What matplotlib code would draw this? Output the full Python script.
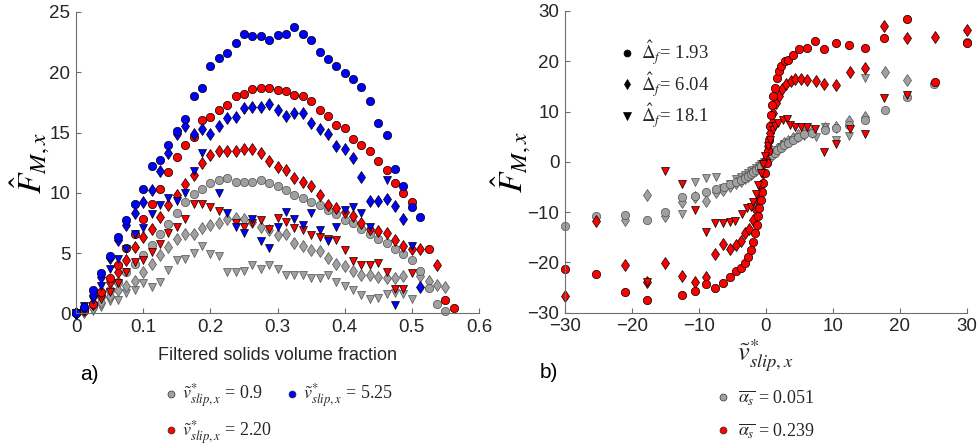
import numpy as np
import matplotlib
matplotlib.use("Agg")
import matplotlib.pyplot as plt
from matplotlib.lines import Line2D

n = np.nan
# ---------------- panel a) data ----------------
phi = [0.0000, 0.0125, 0.0250, 0.0375, 0.0500, 0.0625, 0.0750, 0.0875, 0.1000, 0.1125,
       0.1250, 0.1375, 0.1500, 0.1625, 0.1750, 0.1875, 0.2000, 0.2125, 0.2250, 0.2375,
       0.2500, 0.2625, 0.2750, 0.2875, 0.3000, 0.3125, 0.3250, 0.3375, 0.3500, 0.3625,
       0.3750, 0.3875, 0.4000, 0.4125, 0.4250, 0.4375, 0.4500, 0.4625, 0.4750, 0.4875,
       0.5000, 0.5125, 0.5250, 0.5375, 0.5500, 0.5625]

blue_circ = [0.0, 0.5, 1.93, 3.37, 4.75, 6.3, 7.7, 9.06, 10.3, 12.2,
             12.7, 13.98, 15.1, 16.1, 18.0, 18.7, 20.5, 21.2, 21.6, 22.4,
             23.2, 23.04, 23.0, 22.65, 23.1, 23.2, 23.76, 23.2, 22.65, 21.66,
             21.1, 20.5, 19.9, 19.45, 18.8, 17.6, 15.8, 14.8, 12.0, 10.6,
             8.84, 8.0, n, n, n, n]
blue_diam = [0.0, 0.4, 1.5, 3.0, 4.6, 6.1, 7.3, 8.3, 9.2, 10.2,
             11.8, 13.3, 14.9, 15.5, 14.9, 15.25, 14.9, 15.5, 16.2, 16.3,
             17.0, 17.1, 17.1, 17.35, 16.85, 16.4, 16.6, 16.6, 15.8, 15.3,
             14.9, 13.9, 13.6, 12.9, 11.3, 9.3, 9.3, 9.5, 8.9, 7.8,
             n, 2.2, n, n, n, n]
blue_tri = [0.0, 0.6, 1.1, 2.3, 3.7, 4.5, 5.3, 6.6, 7.1, 8.2,
            9.0, 9.6, 9.3, 10.0, 11.8, 13.3, n, 10.0, 8.3, 7.2,
            6.7, 7.8, 6.0, 5.4, 7.2, 8.4, 7.85, 7.3, 8.3, 6.9,
            6.0, 7.2, 8.6, 8.85, 8.3, 7.2, n, 11.05, 0.7, n,
            5.6, n, n, n, n, n]
red_circ = [0.0, 0.3, 0.8, 1.8, 2.9, 4.0, 5.4, 6.6, 7.85, 9.1,
            10.3, 11.7, 13.0, 14.0, 14.6, 16.0, 16.3, 16.9, 17.3, 18.0,
            18.2, 18.6, 18.7, 18.7, 18.5, 18.45, 18.1, 18.0, 17.6, 16.9,
            16.4, 15.6, 15.4, 14.5, 14.0, 13.5, 12.65, 11.9, 10.8, 10.0,
            9.2, n, 5.3, n, 1.1, 0.4]
red_diam = [0.0, 0.3, 0.8, 1.8, 2.6, 3.4, 4.4, 5.5, 6.3, 7.0,
            8.0, 9.0, 9.8, 10.7, 11.5, 12.5, 13.1, 13.5, 13.5, 13.5,
            13.6, 13.6, 13.3, 12.6, 12.1, 11.9, 11.2, 10.9, 10.6, 9.8,
            9.0, 8.7, 8.4, 8.1, 7.5, 7.0, 6.8, 6.65, 6.1, 5.55,
            5.3, 5.3, n, 4.0, n, n]
red_tri = [0.0, 0.2, 0.6, 1.2, 1.8, 2.5, 3.4, 4.25, 4.4, 5.1,
           5.75, 6.7, 7.2, 7.8, 9.1, 9.1, 8.8, 8.5, n, 7.5,
           7.2, 7.5, 7.7, 6.96, 7.9, 7.6, 7.1, 6.9, 6.5, 6.35,
           6.2, 6.1, 5.25, 4.3, 4.0, 4.0, 4.2, 3.4, 2.0, 2.0,
           3.35, n, n, n, n, n]
gray_circ = [0.0, 0.2, 0.8, 1.4, 1.9, 2.6, 3.4, 4.1, 4.8, 5.7,
             6.6, 7.4, 8.3, 9.2, 9.9, 10.3, 10.8, 11.05, 11.2, 10.9,
             10.9, 10.9, 11.1, 10.8, 10.6, 10.2, 9.8, 9.6, 9.2, 9.0,
             8.56, 8.2, 7.7, 7.5, 7.0, 6.6, 6.2, 5.8, 5.3, 4.9,
             4.4, 3.5, 2.1, 0.8, 0.2, n]
gray_diam = [0.0, 0.1, 0.4, 0.9, 1.4, 1.9, 2.3, 2.7, 3.4, 4.1,
             4.8, 5.5, 6.2, 6.6, 6.6, 7.1, 7.3, 7.5, 7.8, 7.9,
             7.85, 7.6, 7.2, 6.9, 6.5, 6.6, 5.86, 5.6, 5.25, 5.2,
             4.6, 4.1, 3.9, 3.5, 3.15, 3.15, 3.0, 2.95, 2.97, 3.1,
             n, 3.1, 2.7, 2.35, 2.2, n]
gray_tri = [0.0, 0.05, 0.2, 0.5, 1.0, 1.1, 1.7, 1.9, 2.5, 2.15,
            2.6, 3.6, 4.4, 4.5, 5.0, 5.6, 4.9, 4.75, 3.4, 3.4,
            3.5, 4.0, 3.7, 4.0, 3.65, 3.15, 3.15, 3.15, 2.9, 2.9,
            3.15, 2.6, 2.3, 1.9, 1.5, 1.15, 1.25, 1.6, 1.65, 1.6,
            1.2, n, n, n, n, n]

# ---------------- panel b) data ----------------
rc_x = [-30, -25.3, -21.1, -17.8, -12.6, -10.6, -8.9, -7.6, -6.4, -5.3, -4.5, -3.8, -3.2, -2.7,
        -2.3, -1.9, -1.65, -1.4, -1.2, -1.0, -0.8, -0.65, -0.4, -0.15, 0.1, 0.35, 0.5, 0.6, 0.7,
        0.85, 1.1, 1.3, 1.7, 2.0, 2.3, 2.8, 3.3, 4.05, 5.0, 6.1, 7.3, 8.7, 10.4, 12.4, 14.8,
        17.6, 21.1, 25.2, 30]
rc_y = [-21.3, -22.3, -25.9, -27.5, -26.4, -25.7, -24.2, -25.1, -24.0, -22.8, -21.8, -21.1, -20.2, -19.0,
        -17.6, -16.0, -14.2, -12.6, -10.7, -9.2, -7.5, -5.9, -4.2, -2.2, -0.2, 2.1, 4.4, 7.1, 9.4,
        11.4, 13.0, 14.7, 16.7, 18.0, 19.0, 20.0, 20.2, 21.3, 22.5, 22.7, 24.0, 22.5, 23.7, 23.3, 22.6,
        24.6, 28.5, 15.8, 23.6]
rd_x = [-30, -25.3, -21.1, -17.8, -15.0, -12.6, -10.6, -9.0, -7.6, -6.4, -5.3, -4.5, -3.8, -3.2,
        -2.6, -1.9, -1.5, -1.2, -0.8, -0.4, 0.0, 0.35, 0.6, 0.85, 1.1, 1.5, 1.9, 2.4, 3.0, 3.7,
        4.4, 5.2, 6.1, 7.4, 8.7, 10.4, 12.5, 14.8, 17.6, 21.1, 25.2, 30]
rd_y = [-26.6, -11.7, -20.6, -23.9, -20.2, -22.7, -23.9, -22.8, -18.4, -16.3, -17.4, -16.6, -15.7, -14.2,
        -13.4, -11.5, -9.5, -7.5, -4.8, -2.2, 0.5, 3.1, 5.8, 7.8, 9.7, 11.7, 13.0, 14.4, 15.4, 16.0,
        16.4, 16.4, 16.2, 16.0, 15.4, 15.2, 17.9, 18.6, 27.0, 24.6, 24.9, 26.2]
rt_x = [-17.8, -15.0, -12.6, -10.6, -9.0, -7.6, -6.4, -5.3, -4.6, -3.6, -2.8, -2.3, -1.9, -1.5,
        -1.2, -0.8, -0.4, -0.15, 0.35, 0.6, 1.0, 1.3, 1.8, 2.5, 3.1, 3.6, 4.4, 5.2, 6.1, 7.3,
        8.7, 10.4, 12.5, 14.8, 17.6, 21.1]
rt_y = [-23.9, -1.9, -4.4, -9.5, -14.0, -12.1, -12.1, -11.9, -11.8, -10.4, -9.1, -9.0, -7.9, -6.4,
        -4.6, -2.2, -0.5, 1.2, 3.1, 4.4, 6.4, 7.1, 7.8, 8.4, 8.6, 7.4, 6.9, 7.0, 7.0, 6.6,
        1.9, 3.6, 6.6, 5.5, 12.6, 13.3]
gc_x = [-30, -25.3, -21.1, -17.8, -15.0, -12.6, -10.6, -8.9, -7.5, -6.3, -5.3, -4.5, -3.8, -3.2,
        -2.7, -2.3, -1.9, -1.5, -1.1, -0.7, -0.3, 0.1, 0.5, 0.9, 1.3, 1.7, 2.2, 2.7, 3.3, 4.0,
        4.8, 5.7, 6.8, 8.75, 10.4, 12.4, 14.8, 17.7, 21.0, 25.1, 30]
gc_y = [-12.8, -10.7, -10.5, -11.5, -9.9, -7.0, -6.7, -6.0, -5.4, -5.0, -4.5, -4.0, -3.6, -3.2,
        -2.8, -2.4, -2.0, -1.6, -1.2, -0.8, -0.3, 0.2, 0.8, 1.3, 1.8, 2.3, 2.8, 3.3, 3.8, 4.3,
        4.9, 5.5, 5.8, 6.3, 6.7, 7.4, 8.4, 10.4, 12.8, 15.5, 23.9]
gd_x = [-21.1, -17.8, -15.0, -12.6, -10.6, -8.9, -7.5, -6.4, -5.3, -4.5, -3.8, -3.2, -2.7, -2.3,
        -1.9, -1.5, -1.1, -0.7, -0.3, 0.1, 0.5, 0.9, 1.3, 1.7, 2.2, 2.7, 3.3, 4.0, 4.8, 5.7,
        6.8, 8.75, 10.4, 12.4, 14.8, 17.7, 21.0]
gd_y = [-11.6, -6.6, -10.7, -8.0, -7.0, -7.8, -6.0, -5.6, -4.9, -4.3, -3.8, -3.3, -2.9, -2.5,
        -2.1, -1.6, -1.1, -0.6, -0.1, 0.4, 1.0, 1.5, 2.0, 2.6, 3.2, 3.7, 4.2, 4.8, 5.3, 5.8,
        6.2, 6.8, 7.0, 8.1, 9.0, 17.8, 16.2]
gt_x = [-12.6, -10.6, -8.9, -7.5, -6.4, -5.3, -4.5, -3.8, -3.2, -2.7, -2.3, -1.9, -1.5, -1.1,
        -0.7, -0.3, 0.1, 0.5, 0.9, 1.3, 1.7, 2.2, 2.7, 3.3, 4.0, 4.8, 5.7, 6.8, 7.5, 8.75,
        10.4, 12.4, 14.8]
gt_y = [-10.4, -4.05, -3.3, -3.1, -5.2, -4.5, -3.5, -3.0, -2.6, -2.2, -1.9, -1.6, -1.2, -0.9,
        -0.5, -0.1, 0.4, 0.9, 1.4, 1.9, 2.4, 3.0, 3.5, 4.0, 4.4, 4.8, 5.2, 5.5, 5.0, 7.0,
        4.4, 5.2, 16.6]

a_xticks = [0, 0.1, 0.2, 0.3, 0.4, 0.5, 0.6]
a_xlabels = ["0", "0.1", "0.2", "0.3", "0.4", "0.5", "0.6"]
a_yticks = [0, 5, 10, 15, 20, 25]
b_ticks = [-30, -20, -10, 0, 10, 20, 30]
slip_labels = [r"$\tilde{v}^{*}_{slip,x}$ = 0.9", r"$\tilde{v}^{*}_{slip,x}$ = 2.20",
               r"$\tilde{v}^{*}_{slip,x}$ = 5.25"]
alpha_labels = [r"$\overline{\alpha_s}$ = 0.051", r"$\overline{\alpha_s}$ = 0.239"]
delta_labels = [r"$\hat{\Delta}_f$= 1.93", r"$\hat{\Delta}_f$= 6.04", r"$\hat{\Delta}_f$= 18.1"]

# ---------------- styling ----------------
plt.rcParams['mathtext.fontset'] = 'stix'
plt.rcParams['font.family'] = ['Liberation Sans', 'DejaVu Sans']
GRAY = '#a0a0a0'
RED = '#ff0000'
BLUE = '#0000ff'
SPINE = '#6e6e6e'
TXT = '#262626'

fig = plt.figure(figsize=(9.8, 4.47), dpi=100)
axA = fig.add_axes([0.0776, 0.2991, 0.4112, 0.6741])
axB = fig.add_axes([0.5765, 0.3004, 0.4102, 0.6750])

def mk(ax, x, y, marker, color, ms, ec='black'):
    ax.plot(x, y, linestyle='none', marker=marker, markersize=ms, markerfacecolor=color,
            markeredgecolor=ec, markeredgewidth=0.5, clip_on=False)

MS = {'o': 6.0, 'd': 6.0, 'v': 6.2}
GEC = '#505050'
# panel a
mk(axA, phi, gray_tri, 'v', GRAY, MS['v'], GEC)
mk(axA, phi, gray_diam, 'd', GRAY, MS['d'], GEC)
mk(axA, phi, gray_circ, 'o', GRAY, MS['o'], GEC)
mk(axA, phi, red_tri, 'v', RED, MS['v'])
mk(axA, phi, red_diam, 'd', RED, MS['d'])
mk(axA, phi, red_circ, 'o', RED, MS['o'])
mk(axA, phi, blue_tri, 'v', BLUE, MS['v'])
mk(axA, phi, blue_diam, 'd', BLUE, MS['d'])
mk(axA, phi, blue_circ, 'o', BLUE, MS['o'])
# panel b
mk(axB, gt_x, gt_y, 'v', GRAY, MS['v'], GEC)
mk(axB, gd_x, gd_y, 'd', GRAY, MS['d'], GEC)
mk(axB, gc_x, gc_y, 'o', GRAY, MS['o'], GEC)
mk(axB, rd_x, rd_y, 'd', RED, MS['d'])
mk(axB, rc_x, rc_y, 'o', RED, MS['o'])
mk(axB, rt_x, rt_y, 'v', RED, MS['v'])

for ax in (axA, axB):
    for s in ('top', 'right'):
        ax.spines[s].set_visible(False)
    for s in ('left', 'bottom'):
        ax.spines[s].set_color(SPINE)
        ax.spines[s].set_linewidth(0.8)
    ax.tick_params(direction='in', length=3.5, width=0.8, color=SPINE, labelcolor=TXT,
                   labelsize=13.5, pad=4)
    ax.set_facecolor('none')

axA.set_xlim(0, 0.6)
axA.set_ylim(0, 25)
axA.set_xticks(a_xticks)
axA.set_xticklabels(a_xlabels)
axA.set_yticks(a_yticks)
axB.set_xlim(-30, 30)
axB.set_ylim(-30, 30)
axB.set_xticks(b_ticks)
axB.set_yticks(b_ticks)

axA.set_ylabel(r"$\hat{F}_{M,x}$", fontsize=24, color='black', labelpad=-2)
axB.set_ylabel(r"$\hat{F}_{M,x}$", fontsize=24, color='black', labelpad=-4)

fig.text(0.283, 0.205, "Filtered solids volume fraction", fontsize=13, color=TXT,
         ha='center', va='center')
fig.text(0.781, 0.205, r"$\tilde{v}^{*}_{slip,x}$", fontsize=19, color=TXT,
         ha='center', va='center')
fig.text(0.082, 0.163, "a)", fontsize=15, color='black', ha='left', va='center')
fig.text(0.551, 0.166, "b)", fontsize=15, color='black', ha='left', va='center')

def handle(color, marker='o', ec='#303030', ms=5):
    return Line2D([], [], linestyle='none', marker=marker, markersize=ms,
                  markerfacecolor=color, markeredgecolor=ec, markeredgewidth=0.5)

legA = fig.legend([handle(GRAY), handle(RED), handle(BLUE)], slip_labels, ncol=2,
                  loc='center', bbox_to_anchor=(0.283, 0.073), frameon=False,
                  prop={'family': 'Liberation Serif', 'size': 13}, handletextpad=0.1,
                  columnspacing=0.6, labelspacing=0.45, handlelength=1.0)
legB = fig.legend([handle(GRAY), handle(RED)], alpha_labels, loc='center',
                  bbox_to_anchor=(0.78, 0.073), frameon=False,
                  prop={'family': 'Liberation Serif', 'size': 13}, handletextpad=0.3,
                  labelspacing=0.8, handlelength=1.0)
for t in legA.get_texts() + legB.get_texts():
    t.set_color(TXT)

legD = axB.legend([handle('black', 'o', 'black', 5), handle('black', 'd', 'black', 5.5),
                   handle('black', 'v', 'black', 5.5)], delta_labels, loc='upper left',
                  bbox_to_anchor=(0.09, 0.965), frameon=False,
                  prop={'family': 'Liberation Serif', 'size': 13.5}, handletextpad=0.2,
                  labelspacing=0.15, handlelength=1.0)
for t in legD.get_texts():
    t.set_color(TXT)

fig.savefig("out.png", dpi=100)
